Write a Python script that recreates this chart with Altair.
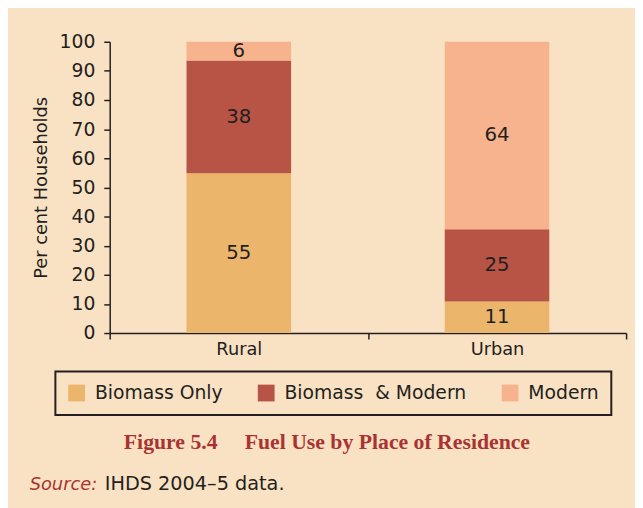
import altair as alt
import pandas as pd

places = ["Rural", "Urban"]
fuels = ["Biomass Only", "Biomass\u00a0 & Modern", "Modern"]
rural_values = [54.9, 38.7, 6.4]
urban_values = [10.8, 24.8, 64.4]
rural_labels = ["55", "38", "6"]
urban_labels = ["11", "25", "64"]
colors = ["#EBB56B", "#B85446", "#F7B38D"]
y_ticks = list(range(0, 101, 10))

caption = "Figure 5.4\u00a0\u00a0\u00a0\u00a0 Fuel Use by Place of Residence"
source_lead = "Source:"
source_rest = "IHDS 2004\u20135 data."

INK = "#231F20"
RED = "#A93232"
FONT = "DejaVu Sans"

rows = []
for place, vals, labs in [("Rural", rural_values, rural_labels), ("Urban", urban_values, urban_labels)]:
    for i, (f, v, l) in enumerate(zip(fuels, vals, labs)):
        rows.append({"place": place, "fuel": f, "value": v, "label": l, "order": i})
df = pd.DataFrame(rows)

base = alt.Chart(df).transform_stack(
    stack="value", groupby=["place"], as_=["y0", "y1"], sort=[alt.SortField("order")]
).transform_calculate(mid="(datum.y0 + datum.y1) / 2")

xscale = alt.Scale(paddingInner=0, paddingOuter=0)
yscale = alt.Scale(domain=[0, 100], nice=False)

xaxis = alt.Axis(
    title=None, labelAngle=0, labelFontSize=18, labelFont=FONT, labelColor=INK,
    tickBand="extent", tickSize=6, tickColor=INK, domainColor=INK, domainWidth=1.5,
    tickWidth=1.5, labelPadding=2,
)
yaxis = alt.Axis(
    title="Per cent Households", titleFontSize=18, titleFont=FONT, titleColor=INK,
    titleFontWeight="normal", titlePadding=9,
    values=y_ticks, tickCount=11, labelOverlap=False, labelFontSize=19, labelFont=FONT,
    labelColor=INK, tickSize=6, tickColor=INK, tickWidth=1.5, domainColor=INK,
    domainWidth=1.5, grid=False, labelPadding=9,
)

bars = base.mark_bar(width=alt.RelativeBandSize(0.405)).encode(
    x=alt.X("place:N", sort=places, scale=xscale, axis=xaxis),
    y=alt.Y("y0:Q", scale=yscale, axis=yaxis),
    y2="y1:Q",
    color=alt.Color(
        "fuel:N",
        scale=alt.Scale(domain=fuels, range=colors),
        legend=alt.Legend(
            title=None, orient="none", direction="horizontal", legendX=-55, legendY=334,
            strokeColor=INK, padding=12, symbolType="square", symbolSize=289,
            symbolStrokeWidth=0, symbolOpacity=1, labelFontSize=19, labelFont=FONT,
            labelColor=INK, columnPadding=34, labelOffset=9, labelLimit=0,
        ),
    ),
    order=alt.Order("order:Q"),
)

labels = base.mark_text(fontSize=20, font=FONT, color=INK, baseline="middle").encode(
    x=alt.X("place:N", sort=places, scale=xscale, axis=xaxis),
    y=alt.Y("mid:Q", scale=yscale, axis=yaxis),
    text="label:N",
)

cap = alt.Chart(pd.DataFrame({"t": [caption]})).mark_text(
    font="Liberation Serif", fontSize=22, fontWeight="bold", color=RED, align="center", baseline="alphabetic"
).encode(x=alt.value(220), y=alt.value(412), text="t:N")

src1 = alt.Chart(pd.DataFrame({"t": [source_lead]})).mark_text(
    font=FONT, fontSize=18, fontStyle="italic", color=RED, align="left", baseline="alphabetic"
).encode(x=alt.value(-81), y=alt.value(454), text="t:N")

src2 = alt.Chart(pd.DataFrame({"t": [source_rest]})).mark_text(
    font=FONT, fontSize=19.5, color=INK, align="left", baseline="alphabetic"
).encode(x=alt.value(-5), y=alt.value(454), text="t:N")

chart = alt.layer(bars, labels, cap, src1, src2).properties(
    width=523,
    height=295,
    autosize=alt.AutoSizeParams(type="none"),
    padding={"left": 103, "top": 31, "right": 9, "bottom": 174},
    background="#F9E2C3",
).configure_view(stroke=None).configure_legend(strokeWidth=2)

chart.save("out.html", embed_options={"renderer": "svg", "actions": False})
